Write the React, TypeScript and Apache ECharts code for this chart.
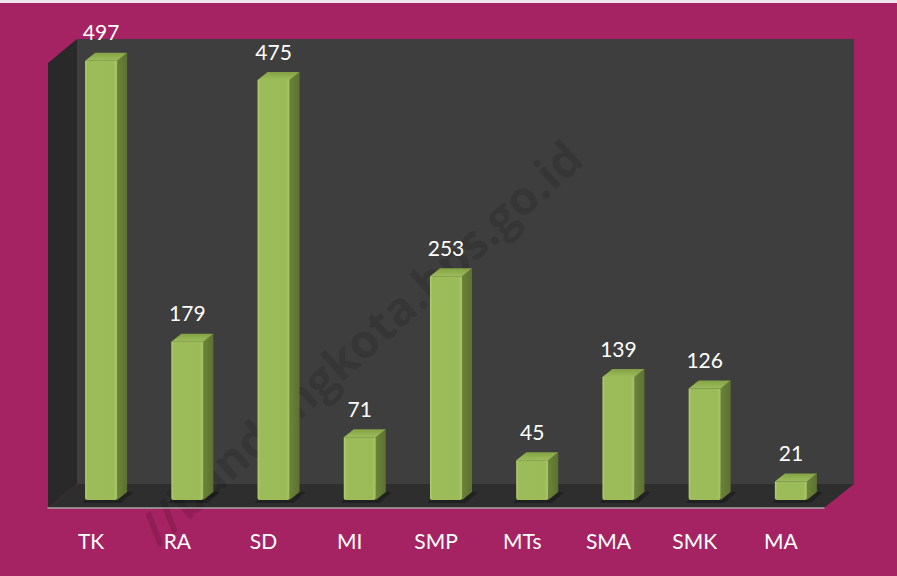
import React, { useEffect, useRef } from "react";
import * as echarts from "echarts";

const categories = ["TK", "RA", "SD", "MI", "SMP", "MTs", "SMA", "SMK", "MA"];
const values = [497, 179, 475, 71, 253, 45, 139, 126, 21];
const yMax = 500;
const watermark = "//bandungkota.bps.go.id";

export default function App() {
  const ref = useRef<HTMLDivElement>(null);
  useEffect(() => {
    document.body.style.margin = "0";
    const chart = echarts.init(ref.current as HTMLDivElement, null, { renderer: "svg" });
    const font = "Lato, 'Noto Sans', sans-serif";
    const DY = -8;
    const BW = 32, BDX = 10, BDY = -8;
    const frontGrad = new echarts.graphic.LinearGradient(0, 0, 1, 0, [
      { offset: 0, color: "#B3D173" },
      { offset: 0.07, color: "#9CBC5A" },
      { offset: 0.88, color: "#9BBB59" },
      { offset: 1, color: "#A8C767" },
    ]);
    const topGrad = new echarts.graphic.LinearGradient(0, 0, 0, 1, [
      { offset: 0, color: "#84A243" },
      { offset: 1, color: "#9DBD5C" },
    ]);
    const sideGrad = new echarts.graphic.LinearGradient(0, 0, 1, 0, [
      { offset: 0, color: "#6A8338" },
      { offset: 1, color: "#5C722F" },
    ]);
    chart.setOption({
      animation: false,
      backgroundColor: "#A52362",
      grid: { left: 48, right: 73, top: 66, bottom: 68, containLabel: false },
      xAxis: {
        type: "category",
        data: categories,
        z: 5,
        axisLine: { lineStyle: { color: "#A6A6A6", width: 1.5 } },
        axisTick: { length: 6, lineStyle: { color: "#A6A6A6", width: 1.5 } },
        axisLabel: { color: "#FFFFFF", fontSize: 21, fontFamily: font, margin: 22 },
        splitLine: { show: false },
      },
      yAxis: { type: "value", min: 0, max: yMax, show: false, splitLine: { show: false } },
      graphic: {
        elements: [
          { type: "rect", z: -10, shape: { x: 0, y: 0, width: 897, height: 3 }, style: { fill: "#EFE6EA" } },
          { type: "rect", z: -10, shape: { x: 77, y: 39, width: 777, height: 445 }, style: { fill: "#3E3E3E" } },
          { type: "polygon", z: -10, shape: { points: [[48, 63], [77, 39], [77, 484], [48, 508]] }, style: { fill: "#292929" } },
          { type: "polygon", z: -10, shape: { points: [[48, 508], [77, 484], [854, 484], [824, 508]] }, style: { fill: "#2E2E2E" } },
          {
            type: "text",
            z: -5,
            x: 360,
            y: 342,
            rotation: (42 * Math.PI) / 180,
            style: {
              text: watermark,
              fill: "rgba(0,0,0,0.15)",
              font: "bold 47px 'Open Sans', 'Noto Sans', sans-serif",
              align: "center",
              verticalAlign: "middle",
            },
          },
        ],
      },
      series: [
        {
          type: "custom",
          z: 3,
          data: values.map((v, i) => [i, v]),
          renderItem: (params: any, api: any) => {
            const i = api.value(0);
            const v = api.value(1);
            const p0 = api.coord([i, 0]);
            const p1 = api.coord([i, v]);
            const left = p0[0] - 6;
            const right = left + BW;
            const bottom = p0[1] + DY;
            const top = p1[1] + DY;
            const cx = left + BW / 2;
            return {
              type: "group",
              children: [
                {
                  type: "polygon",
                  shape: { points: [[left - 3, bottom + 3], [right + 4, bottom + 3], [right + BDX + 6, bottom + BDY], [left + BDX, bottom + BDY - 2]] },
                  style: { fill: "rgba(0,0,0,0.28)" },
                },
                {
                  type: "polygon",
                  shape: { points: [[right, top], [right + BDX, top + BDY], [right + BDX, bottom + BDY], [right, bottom]] },
                  style: { fill: sideGrad },
                },
                {
                  type: "rect",
                  shape: { x: left, y: top, width: BW, height: bottom - top, r: [0, 0, 2, 2] },
                  style: { fill: frontGrad },
                },
                {
                  type: "polygon",
                  shape: { points: [[left, top], [right, top], [right + BDX, top + BDY], [left + BDX, top + BDY]] },
                  style: { fill: topGrad },
                },
                {
                  type: "text",
                  x: cx,
                  y: top - 29,
                  style: {
                    text: String(v),
                    fill: "#FFFFFF",
                    font: `21px ${font}`,
                    align: "center",
                    verticalAlign: "middle",
                  },
                },
              ],
            };
          },
        },
      ],
    });
    return () => chart.dispose();
  }, []);
  return <div ref={ref} style={{ width: 897, height: 576 }} />;
}
